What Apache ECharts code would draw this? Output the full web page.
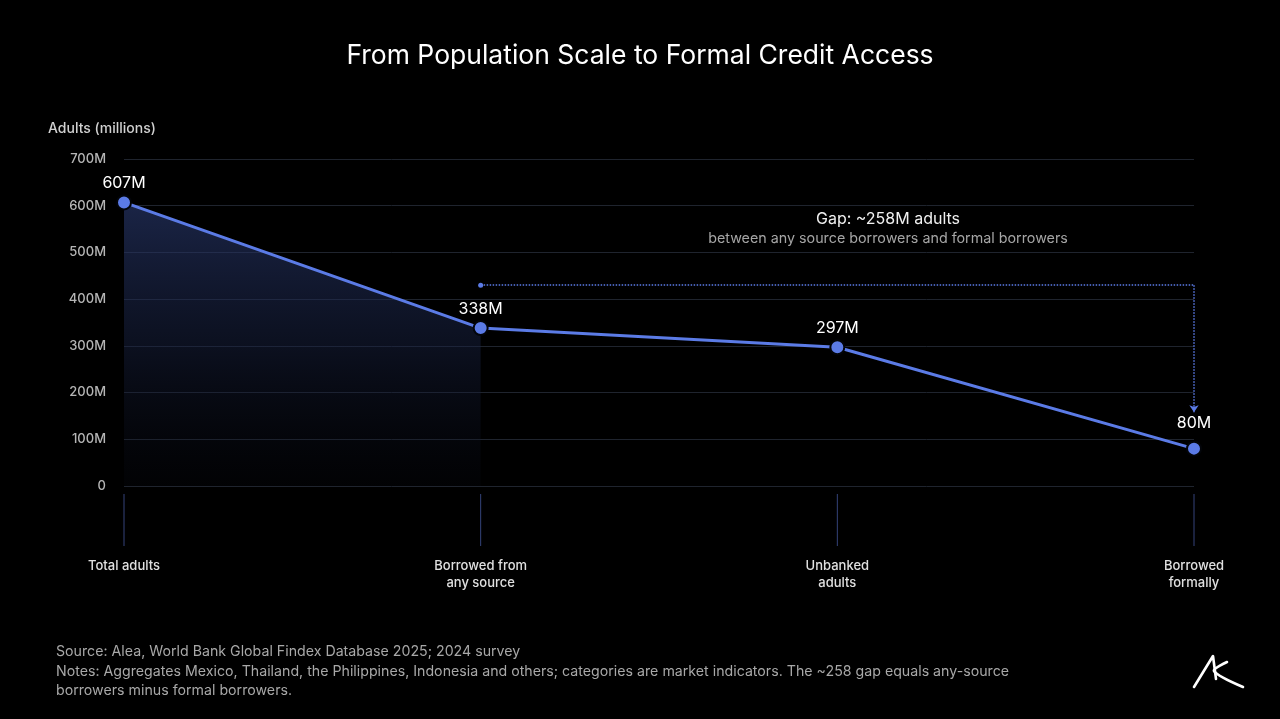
<!DOCTYPE html>
<html lang="en">
<head>
<meta charset="utf-8">
<title>From Population Scale to Formal Credit Access</title>
<script src="https://cdn.jsdelivr.net/npm/echarts@6/dist/echarts.min.js"></script>
<style>
  html, body { margin: 0; padding: 0; background: #000; }
  #main { width: 1280px; height: 719px; }
</style>
</head>
<body>
<div id="main"></div>
<script>
// categories and values (millions of adults)
var categories = ['Total adults', 'Borrowed from\nany source', 'Unbanked\nadults', 'Borrowed\nformally'];
var adults = [607, 338, 297, 80];
// shaded region only covers the first two points
var shaded = [607, 338, null, null];
// gap bracket, in axis units
var gapTop = 430;
var gapBottom = 158;
var yTicks = [0, 100, 200, 300, 400, 500, 600, 700];

var FONT = 'Inter, "Noto Sans", sans-serif';
var BLUE = '#5b7be6';

var myChart = echarts.init(document.getElementById('main'));

// last label sits a little higher, clear of the arrow
var lineData = adults.map(function (v, i) {
    if (i === adults.length - 1) {
        return { value: v, label: { distance: 9 } };
    }
    return v;
});

var option = {
    backgroundColor: '#000',
    textStyle: { fontFamily: FONT },
    title: {
        text: 'From Population Scale to Formal Credit Access',
        left: 'center',
        top: 38,
        textStyle: { color: '#fff', fontSize: 26.5, fontWeight: 'normal', fontFamily: FONT }
    },
    grid: { left: 124, right: 86, top: 159, bottom: 233, containLabel: false },
    xAxis: {
        type: 'category',
        data: categories,
        boundaryGap: false,
        offset: 8,
        axisLine: { show: false },
        axisTick: { show: false },
        axisLabel: {
            margin: 64,
            color: '#e0e0e0',
            fontSize: 13,
            fontWeight: 500,
            lineHeight: 17,
            fontFamily: FONT,
            interval: 0
        },
        splitLine: { show: false }
    },
    yAxis: {
        type: 'value',
        min: yTicks[0],
        max: yTicks[yTicks.length - 1],
        interval: 100,
        axisLine: { show: false },
        axisTick: { show: false },
        axisLabel: {
            margin: 18,
            color: '#b5b5b5',
            fontSize: 13,
            fontWeight: 500,
            fontFamily: FONT,
            formatter: function (v) { return v === 0 ? '0' : v + 'M'; }
        },
        splitLine: { lineStyle: { color: '#1f242e', width: 1 } }
    },
    graphic: [
        {
            type: 'text', left: 48, top: 122,
            style: { text: 'Adults (millions)', fill: '#d0d0d0', font: '500 14px ' + FONT }
        },
        {
            type: 'text', x: 888, y: 219,
            style: { text: 'Gap: ~258M adults', fill: '#f0f0f0', font: '16px ' + FONT, align: 'center', verticalAlign: 'middle' }
        },
        {
            type: 'text', x: 888, y: 239,
            style: { text: 'between any source borrowers and formal borrowers', fill: '#a5a5a5', font: '14.3px ' + FONT, align: 'center', verticalAlign: 'middle' }
        },
        {
            type: 'text', left: 56, top: 642,
            style: {
                text: 'Source: Alea, World Bank Global Findex Database 2025; 2024 survey\n' +
                      'Notes: Aggregates Mexico, Thailand, the Philippines, Indonesia and others; categories are market indicators. The ~258 gap equals any-source\n' +
                      'borrowers minus formal borrowers.',
                fill: '#a8a8a8', font: '14.2px ' + FONT, lineHeight: 19.5
            }
        },
        // logo
        {
            type: 'polyline',
            shape: { points: [[1194, 687], [1213, 656], [1216, 679]] },
            style: { stroke: '#fff', lineWidth: 2.6, fill: null, lineCap: 'round', lineJoin: 'round' }
        },
        {
            type: 'polyline',
            shape: { points: [[1227, 662], [1214, 671], [1243, 687]], smooth: 0.3 },
            style: { stroke: '#fff', lineWidth: 2.6, fill: null, lineCap: 'round', lineJoin: 'round' }
        }
    ],
    series: [
        {
            // category tick marks, hung below the zero line
            name: 'ticks',
            type: 'custom',
            silent: true,
            clip: false,
            data: categories.map(function (c, i) { return [i, 0]; }),
            renderItem: function (params, api) {
                var p = api.coord([api.value(0), api.value(1)]);
                return {
                    type: 'line',
                    shape: { x1: p[0], y1: p[1] + 8, x2: p[0], y2: p[1] + 60 },
                    style: { stroke: '#34437a', lineWidth: 1 }
                };
            },
            z: 1
        },
        {
            name: 'shaded',
            type: 'line',
            data: shaded,
            symbol: 'none',
            silent: true,
            lineStyle: { width: 0 },
            areaStyle: {
                color: new echarts.graphic.LinearGradient(0, 0, 0, 1, [
                    { offset: 0, color: 'rgba(42, 58, 112, 0.9)' },
                    { offset: 0.5, color: 'rgba(26, 36, 70, 0.65)' },
                    { offset: 1, color: 'rgba(12, 16, 30, 0.2)' }
                ])
            },
            z: 1
        },
        {
            name: 'Adults',
            type: 'line',
            data: lineData,
            symbol: 'circle',
            symbolSize: 14,
            lineStyle: { color: BLUE, width: 3 },
            itemStyle: { color: BLUE, borderColor: '#03050a', borderWidth: 2 },
            label: {
                show: true,
                position: 'top',
                distance: 3,
                color: '#fff',
                fontSize: 16,
                fontFamily: FONT,
                formatter: function (p) { return p.value + 'M'; }
            },
            markLine: {
                silent: true,
                animation: false,
                label: { show: false },
                lineStyle: { color: BLUE, type: 'dotted', width: 1.5 },
                data: [
                    [
                        { coord: [categories[1], gapTop], symbol: 'circle', symbolSize: 5 },
                        { coord: [categories[3], gapTop], symbol: 'none' }
                    ],
                    [
                        { coord: [categories[3], gapTop], symbol: 'none' },
                        { coord: [categories[3], gapBottom], symbol: 'arrow', symbolSize: 7 }
                    ]
                ]
            },
            z: 3
        }
    ]
};

myChart.setOption(option);
</script>
</body>
</html>
